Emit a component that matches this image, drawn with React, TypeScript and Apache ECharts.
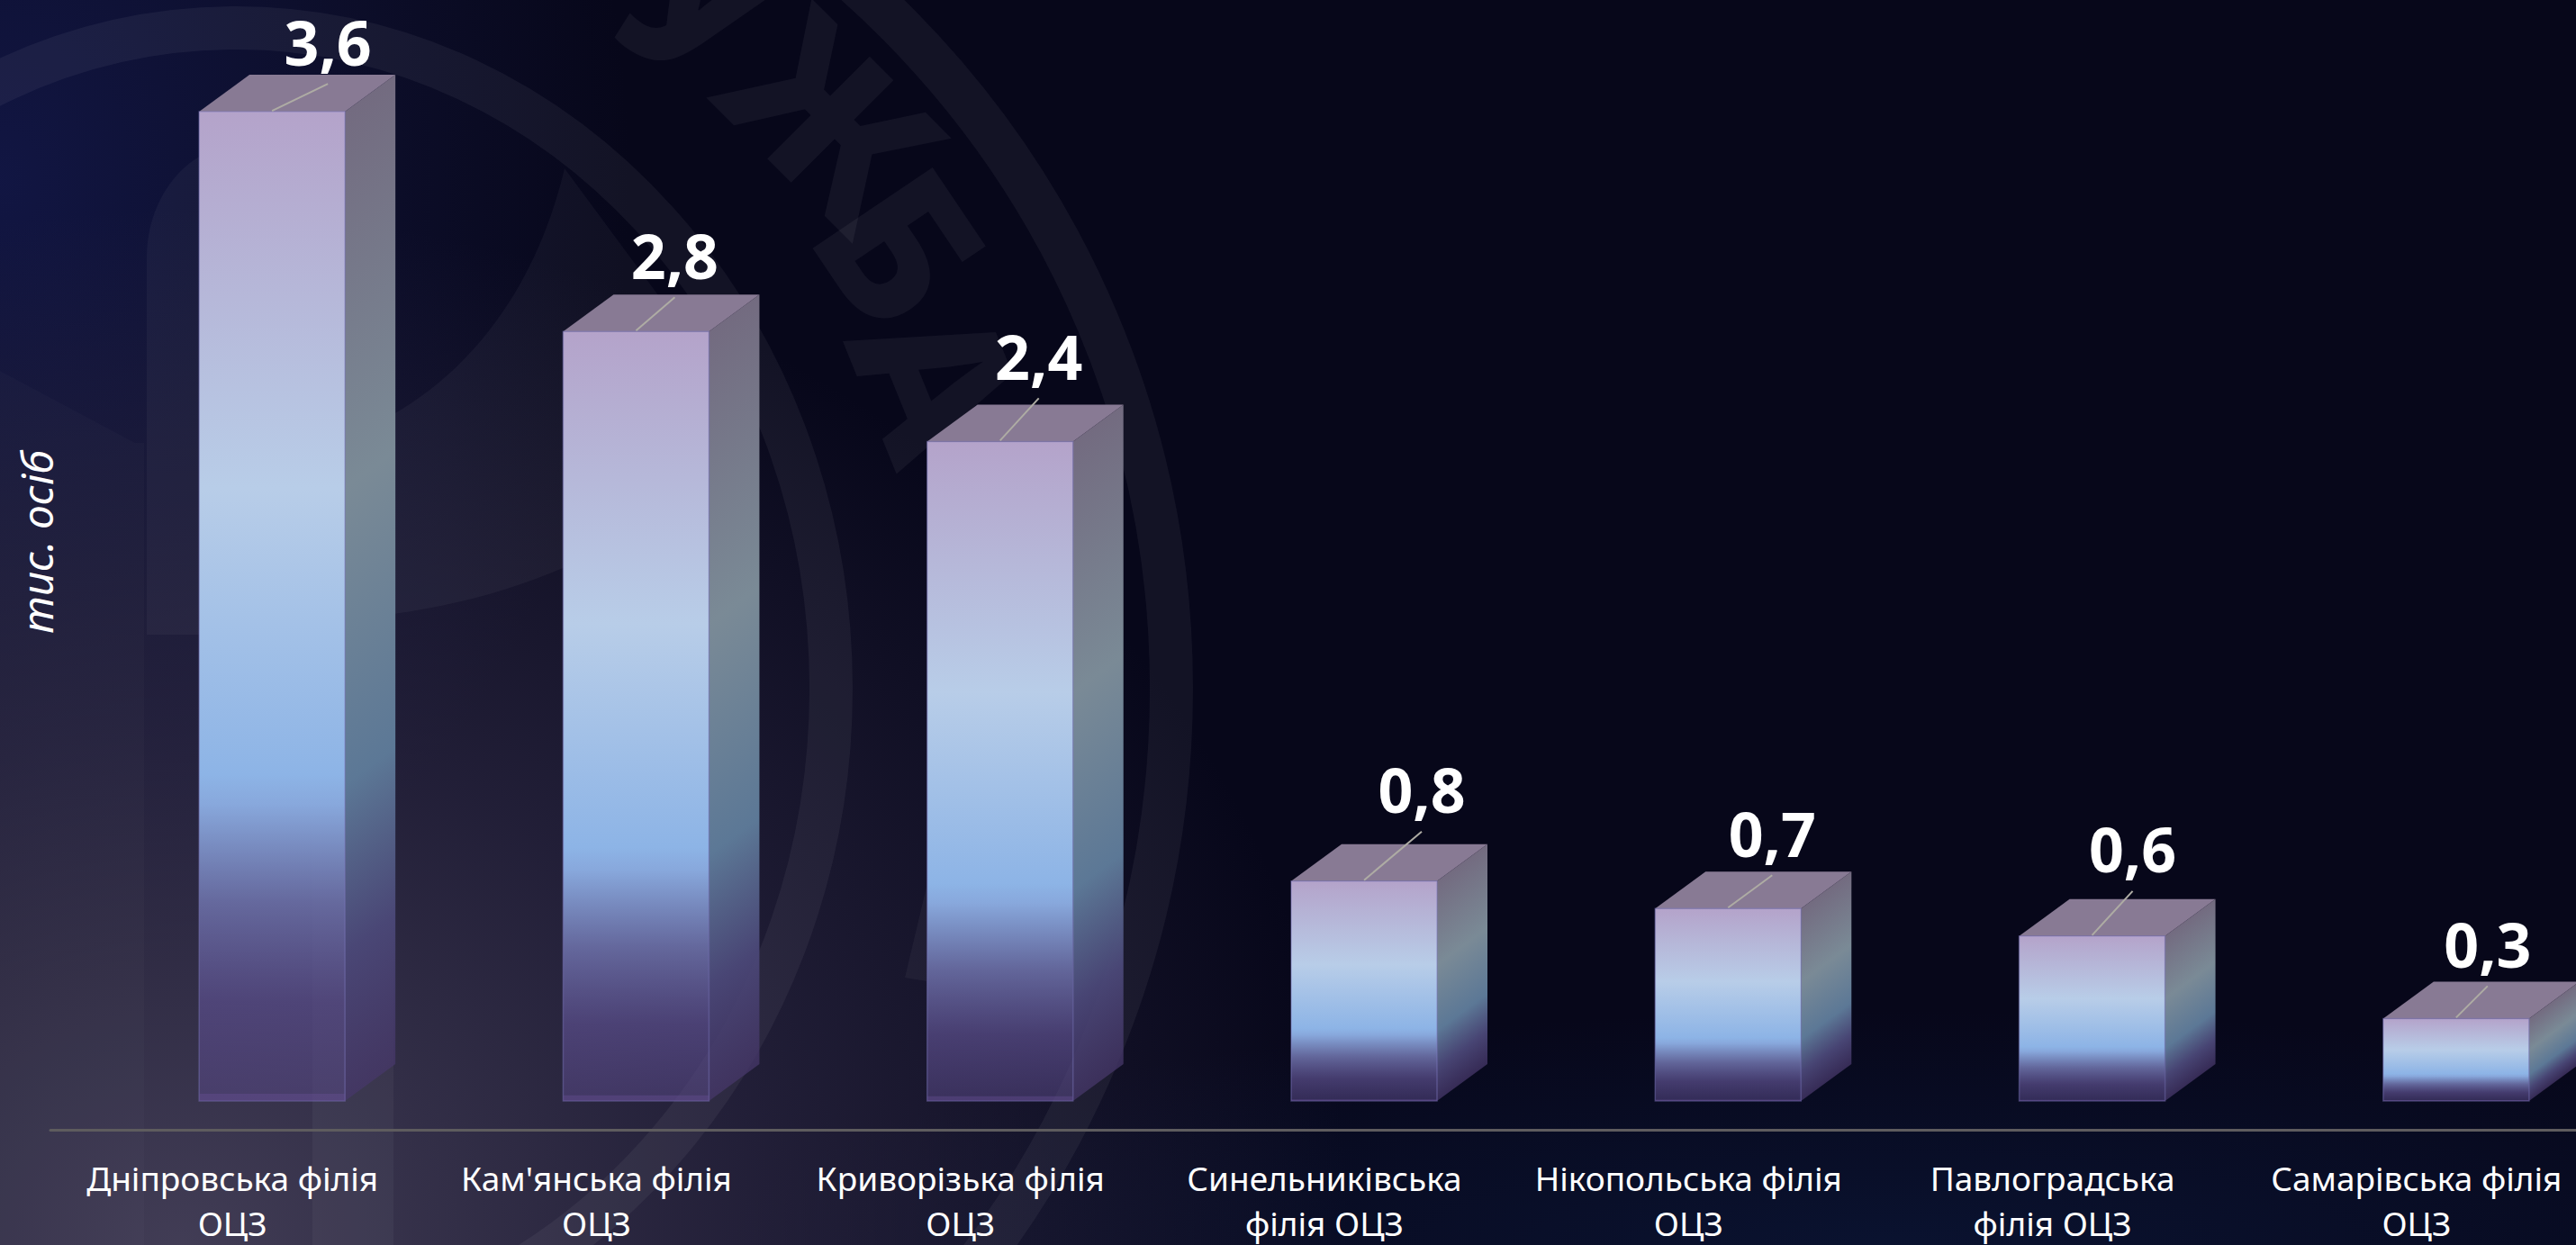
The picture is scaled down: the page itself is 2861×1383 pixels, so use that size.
import React, { useEffect, useRef } from "react";
import * as echarts from "echarts";

const categories = [
  "Дніпровська філія\nОЦЗ",
  "Кам'янська філія\nОЦЗ",
  "Криворізька філія\nОЦЗ",
  "Синельниківська\nфілія ОЦЗ",
  "Нікопольська філія\nОЦЗ",
  "Павлоградська\nфілія ОЦЗ",
  "Самарівська філія\nОЦЗ",
];
const values = [3.6, 2.8, 2.4, 0.8, 0.7, 0.6, 0.3];
const unitLabel = "тис. осіб";
const watermarkLetters = ["У", "Ж", "Б", "А"];

// layout only
const labelDx = [62, 43, 43, 64, 49, 45, 35];
const labelDy = [-78, -85, -95, -102, -84, -97, -83];
const letterPos = [
  [780, 0, 32],
  [927, 128, 45],
  [1005, 272, 56],
  [1047, 420, 68],
];
const FONT = '"Noto Sans", sans-serif';
const BAR_SHIFT = 44;
const BAR_HALF = 81;
const DEPTH_X = 56;
const DEPTH_Y = 41;

const shieldPath =
  "M163 480 L163 285 C163 235 190 190 225 172 L437 172 L437 460 C540 400 600 300 627 187 L842 478 C740 590 600 660 437 682 L437 1383 L347 1383 L347 705 L163 705 Z " +
  "M1005 1086 L1029 985 L1029 1090 Z";
const armPath = "M0 412 L150 492 L160 492 L160 1383 L0 1383 Z";
echarts.graphic.registerShape("emblemShield", echarts.graphic.extendPath(shieldPath, {}));
echarts.graphic.registerShape("emblemArm", echarts.graphic.extendPath(armPath, {}));

function frontGradient(y0: number, y1: number) {
  return new echarts.graphic.LinearGradient(0, y0, 0, y1, [
    { offset: 0, color: "#b4a3ca" },
    { offset: 0.38, color: "#b8cde8" },
    { offset: 0.67, color: "#8db4e6" },
    { offset: 0.7, color: "#88a8dc" },
    { offset: 0.8, color: "rgba(106,110,165,0.92)" },
    { offset: 0.9, color: "rgba(88,76,136,0.75)" },
    { offset: 1, color: "rgba(85,70,130,0.55)" },
  ], true);
}

function sideGradient(xR: number, y0: number, y1: number) {
  // iso-colour lines follow the receding edge of the side face
  const h = y1 - y0;
  const len = Math.hypot(DEPTH_X, DEPTH_Y);
  const nx = DEPTH_Y / len;
  const ny = DEPTH_X / len;
  const d = (h * DEPTH_X) / len;
  return new echarts.graphic.LinearGradient(xR, y0, xR + nx * d, y0 + ny * d, [
    { offset: 0, color: "#736b80" },
    { offset: 0.38, color: "#7a8a96" },
    { offset: 0.68, color: "#5c7896" },
    { offset: 0.85, color: "rgba(75,72,120,0.95)" },
    { offset: 1, color: "rgba(70,55,105,0.75)" },
  ], true);
}

function renderBar(params: any, api: any) {
  const i = params.dataIndex;
  const value = api.value(1);
  const top = api.coord([i, value]);
  const base = api.coord([i, 0]);
  const cx = top[0] + BAR_SHIFT;
  const xL = cx - BAR_HALF;
  const xR = cx + BAR_HALF;
  const yT = top[1];
  const yB = base[1];
  const lx = cx + labelDx[i];
  const ly = yT + labelDy[i];
  const strip = Math.max(1, value * 2.2);
  return {
    type: "group",
    children: [
      {
        type: "polygon",
        shape: { points: [[xR, yT], [xR + DEPTH_X, yT - DEPTH_Y], [xR + DEPTH_X, yB - DEPTH_Y], [xR, yB]] },
        style: { fill: sideGradient(xR, yT, yB) },
      },
      {
        type: "polygon",
        shape: { points: [[xL, yT], [xL + DEPTH_X, yT - DEPTH_Y], [xR + DEPTH_X, yT - DEPTH_Y], [xR, yT]] },
        style: { fill: "#887a94" },
      },
      {
        type: "rect",
        shape: { x: xL, y: yT, width: BAR_HALF * 2, height: yB - yT },
        style: { fill: frontGradient(yT, yB), stroke: "rgba(125,120,190,0.45)", lineWidth: 1.5 },
      },
      {
        type: "rect",
        shape: { x: xL, y: yB - strip, width: BAR_HALF * 2, height: strip },
        style: { fill: "rgba(105,80,150,0.4)" },
      },
      {
        type: "line",
        shape: { x1: cx, y1: yT - 1, x2: lx, y2: ly + 47 },
        style: { stroke: "#aeaca4", lineWidth: 2 },
      },
      {
        type: "text",
        x: lx,
        y: ly,
        style: {
          text: value.toFixed(1).replace(".", ","),
          fill: "#ffffff",
          fontFamily: FONT,
          fontWeight: 700,
          fontSize: 68,
          align: "center",
          verticalAlign: "middle",
        },
      },
    ],
  };
}

export default function App() {
  const ref = useRef<HTMLDivElement>(null);
  useEffect(() => {
    document.body.style.margin = "0";
    document.body.style.background = "#07071a";
    const chart = echarts.init(ref.current!, undefined, { renderer: "svg" });
    const ringStyle = { fill: "none", stroke: "rgba(255,255,255,0.05)", lineWidth: 48 };
    chart.setOption({
      animation: false,
      grid: { left: 56, width: 2830, top: 2, bottom: 128, containLabel: false, outerBoundsMode: "none" },
      xAxis: {
        type: "category",
        data: categories,
        axisLine: { onZero: false, lineStyle: { color: "#5e5c5e", width: 3 } },
        axisTick: { show: false },
        splitLine: { show: false },
        axisLabel: {
          interval: 0,
          hideOverlap: false,
          margin: 28,
          color: "#ffffff",
          fontFamily: FONT,
          fontSize: 37,
          lineHeight: 50,
        },
      },
      yAxis: { type: "value", min: -0.105, max: 4, show: false },
      graphic: [
        { type: "ellipse", silent: true, z: 0, shape: { cx: 262, cy: 765, rx: 661, ry: 734 }, style: ringStyle },
        { type: "ellipse", silent: true, z: 0, shape: { cx: 262, cy: 765, rx: 1039, ry: 1045 }, style: ringStyle },
        { type: "emblemShield", silent: true, z: 0, x: 0, y: 0, style: { fill: "rgba(255,255,255,0.04)" } },
        { type: "emblemArm", silent: true, z: 0, x: 0, y: 0, style: { fill: "rgba(255,255,255,0.02)" } },
        ...watermarkLetters.map((t, k) => ({
          type: "text",
          silent: true,
          z: 0,
          x: letterPos[k][0],
          y: letterPos[k][1],
          rotation: (-letterPos[k][2] * Math.PI) / 180,
          style: {
            text: t,
            fill: "rgba(255,255,255,0.05)",
            fontFamily: FONT,
            fontWeight: 800,
            fontSize: 225,
            align: "center",
            verticalAlign: "middle",
          },
        })),
        {
          type: "text",
          x: 40,
          y: 602,
          rotation: Math.PI / 2,
          style: {
            text: unitLabel,
            fill: "#ffffff",
            fontFamily: FONT,
            fontStyle: "italic",
            fontSize: 48,
            align: "center",
            verticalAlign: "middle",
          },
        },
      ],
      series: [
        {
          type: "custom",
          clip: false,
          renderItem: renderBar,
          encode: { x: 0, y: 1 },
          data: values.map((v, i) => [i, v]),
        },
      ],
    });
    return () => chart.dispose();
  }, []);
  return (
    <div
      style={{
        width: 2861,
        height: 1383,
        overflow: "hidden",
        background:
          "radial-gradient(ellipse 1300px 1150px at 200px 1383px, rgba(80,74,100,0.8), rgba(58,52,82,0.52) 50%, transparent 100%)," +
          "radial-gradient(ellipse 700px 900px at 0px 200px, rgba(22,28,84,0.7), rgba(22,26,70,0.35) 60%, transparent 100%)," +
          "radial-gradient(ellipse 1300px 260px at 2100px 1383px, rgba(12,26,62,0.6), transparent 100%)," +
          "#07071a",
      }}
    >
      <div ref={ref} style={{ width: 2900, height: 1383 }} />
    </div>
  );
}
